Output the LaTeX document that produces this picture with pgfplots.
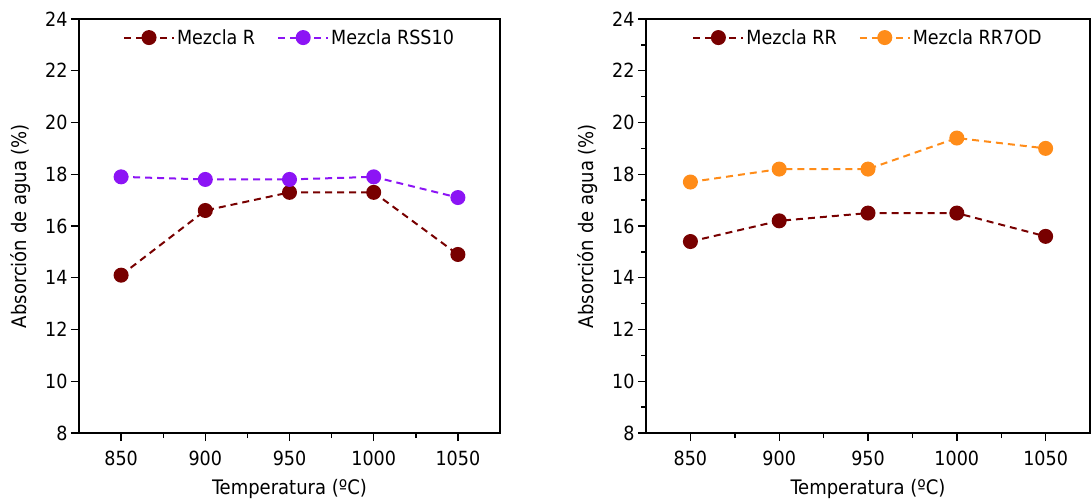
\documentclass[border=0pt]{standalone}
\usepackage{fontspec}
\setmainfont{DejaVu Sans Condensed}
\usepackage{pgfplots}
\pgfplotsset{compat=1.18}
\definecolor{rojo}{RGB}{120,0,0}
\definecolor{morado}{RGB}{140,20,245}
\definecolor{naranja}{RGB}{255,140,25}
\pgfplotsset{
  panel/.style={
    scale only axis,height=414pt,
    xmin=825,xmax=1075,ymin=8,ymax=24,
    xtick={850,900,...,1050},minor x tick num=1,
    ytick={8,10,...,24},
    xtick pos=bottom,ytick pos=left,tick align=outside,
    major tick length=8pt,minor tick length=5pt,
    axis line style={line width=1.8pt},
    every tick/.style={black,line width=1.4pt},
    tick label style={font=\fontsize{19.5}{23}\selectfont},
    xticklabel style={yshift=-6pt},
    label style={font=\fontsize{20}{24}\selectfont},
    xlabel style={yshift=-7pt},
    ylabel style={yshift=8pt},
    /pgf/number format/assume math mode=true,
    /pgf/number format/1000 sep={},
    xlabel={Temperatura (ºC)},ylabel={Absorción de agua (\%)},
    legend style={draw=none,fill=none,at={(0.5,0.985)},anchor=north,
      font=\fontsize{19.5}{23}\selectfont,
      /tikz/every even column/.append style={column sep=20pt}},
    legend columns=2,
    legend image code/.code={%
      \draw[mark repeat=2,mark phase=2] plot coordinates {(0pt,0pt) (25pt,0pt) (50pt,0pt)};},
  },
  serie/.style={#1,line width=2pt,dash pattern=on 7pt off 5pt,
    mark=*,mark size=6.5pt,mark options={solid,fill=#1,draw=#1}},
}
\begin{document}
\begin{tikzpicture}
\useasboundingbox (0,0) rectangle (1091pt,-499pt);
\begin{axis}[panel,at={(79pt,-433pt)},width=421pt]
  \addplot[serie=rojo] coordinates {(850,14.1) (900,16.6) (950,17.3) (1000,17.3) (1050,14.9)};
  \addplot[serie=morado] coordinates {(850,17.9) (900,17.8) (950,17.8) (1000,17.9) (1050,17.1)};
  \legend{Mezcla R,Mezcla RSS10}
\end{axis}
\begin{axis}[panel,at={(646pt,-433pt)},width=444pt,minor y tick num=1]
  \addplot[serie=rojo] coordinates {(850,15.4) (900,16.2) (950,16.5) (1000,16.5) (1050,15.6)};
  \addplot[serie=naranja] coordinates {(850,17.7) (900,18.2) (950,18.2) (1000,19.4) (1050,19.0)};
  \legend{Mezcla RR,Mezcla RR7OD}
\end{axis}
\end{tikzpicture}
\end{document}
